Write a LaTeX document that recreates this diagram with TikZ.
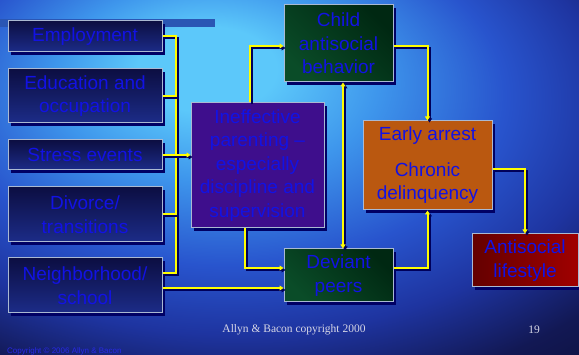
\documentclass[tikz,border=0pt]{standalone}
\usepackage{fontspec}
\setmainfont{Liberation Sans}
\newfontfamily\serifface{Liberation Serif}
\usetikzlibrary{arrows.meta,shadows}
\definecolor{bgbase}{RGB}{30,52,160}
\definecolor{glowA}{RGB}{62,150,236}
\definecolor{glowB}{RGB}{92,200,250}
\definecolor{midblue}{RGB}{40,84,205}
\definecolor{darkbg}{RGB}{18,24,84}
\definecolor{darkest}{RGB}{10,12,48}
\definecolor{barcol}{RGB}{42,86,180}
\definecolor{tblue}{RGB}{18,18,228}
\definecolor{bshadow}{RGB}{0,0,100}
\definecolor{bord}{RGB}{170,185,210}
\definecolor{cyel}{RGB}{255,255,0}
\definecolor{cshadow}{RGB}{0,0,90}
\definecolor{navyA}{RGB}{12,14,66}
\definecolor{navyB}{RGB}{28,44,136}
\definecolor{purA}{RGB}{62,14,140}
\definecolor{purB}{RGB}{40,6,96}
\definecolor{grnA}{RGB}{10,76,40}
\definecolor{grnB}{RGB}{0,40,18}
\definecolor{orA}{RGB}{186,88,16}
\definecolor{orB}{RGB}{106,48,8}
\definecolor{redA}{RGB}{100,0,0}
\definecolor{redB}{RGB}{160,0,0}
\definecolor{footgray}{RGB}{215,215,230}
\definecolor{copyblue}{RGB}{40,40,230}
\pgfdeclareradialshading{bgglow}{\pgfpoint{-7.7bp}{16.5bp}}{%
  color(0bp)=(glowB); color(6bp)=(glowB); color(14bp)=(glowA); color(24bp)=(midblue);
  color(32bp)=(bgbase); color(40bp)=(darkbg); color(50bp)=(darkest); color(80bp)=(darkest)}
\newcommand\mkbox[7]{%
  \node[boxbase,#6,minimum width=#4pt,minimum height=#5pt] (#1) at (#2,#3) {};
  \node[txt] (#1t) at (#1.center) {#7};
}
\newcommand\cn[2]{%
  \draw[connsh,#1,transform canvas={xshift=2pt,yshift=-2pt}] #2;
  \draw[conn,#1] #2;
}
\begin{document}
\begin{tikzpicture}[x=1pt,y=-1pt,
  boxbase/.style={draw=bord, line width=1pt, inner sep=0pt,
    drop shadow={shadow xshift=3pt, shadow yshift=-3pt, fill=bshadow, opacity=1}},
  navybox/.style={top color=navyA, bottom color=navyB},
  purbox/.style={left color=purA, middle color=purB, right color=purA, shading angle=135},
  grnbox/.style={left color=grnA, right color=grnB, shading angle=135},
  orbox/.style={left color=orA, middle color=orB, right color=orA, shading angle=135},
  redbox/.style={left color=redA, right color=redB},
  txt/.style={text=tblue, align=center, font=\fontsize{19}{23.5}\selectfont, inner sep=0pt},
  conn/.style={draw=cyel, line width=2pt},
  connsh/.style={draw=cshadow, line width=2pt},
  plain/.style={},
  arr/.style={-{Triangle[length=4pt,width=5pt]}},
  arrb/.style={{Triangle[length=4pt,width=5pt]}-{Triangle[length=4pt,width=5pt]}}
]
\useasboundingbox (0,0) rectangle (579,355);
% background
\shade[shading=bgglow] (0,0) rectangle (579,355);
\fill[barcol] (0,19) rectangle (215,27);
% boxes
\mkbox{emp}{85}{36.5}{154}{31}{navybox}{Employment}
\mkbox{edu}{85}{96}{154}{54}{navybox}{Education and\\occupation}
\mkbox{str}{85}{155}{154}{30}{navybox}{Stress events}
\mkbox{div}{85}{214.5}{154}{55}{navybox}{Divorce/\\transitions}
\mkbox{nei}{85}{285.5}{154}{55}{navybox}{Neighborhood/\\school}
\mkbox{par}{257.5}{165.5}{133}{125}{purbox}{Ineffective\\parenting --\\especially\\discipline and\\supervision}
\mkbox{chi}{338.5}{43.5}{109}{77}{grnbox}{Child\\antisocial\\behavior}
\mkbox{dev}{338.5}{275.5}{109}{53}{grnbox}{Deviant\\peers}
\mkbox{ear}{427.5}{165.5}{129}{89}{orbox}{Early arrest\\[12pt]Chronic\\delinquency}
\mkbox{ant}{525}{260.5}{106}{53}{redbox}{Antisocial\\lifestyle}
% connectors
\coordinate (tkb) at (176,273);
\cn{plain}{(emp.east) -| (tkb) -- ([yshift=12.5pt]nei.east)}
\cn{plain}{(edu.east) -- (edu.east -| tkb)}
\cn{plain}{(div.east) -- (div.east -| tkb)}
\cn{arr}{(str.east) -- (str.east -| par.west)}
\cn{arr}{([yshift=-2.5pt]nei.east) -- ([yshift=-2.5pt]nei.east -| dev.west)}
\cn{arr}{([xshift=-7.5pt]par.north) |- ([yshift=-2.5pt]chi.west)}
\cn{arr}{([xshift=-12.5pt]par.south) |- ([yshift=7.5pt]dev.west)}
\cn{arrb}{([xshift=4.5pt]chi.south) -- ([xshift=4.5pt]dev.north)}
\cn{arr}{([yshift=-2.5pt]chi.east) -| (ear.north)}
\cn{arr}{([yshift=7.5pt]dev.east) -| (ear.south)}
\cn{arr}{([yshift=-3.5pt]ear.east) -| (ant.north)}
% footer
\node[text=footgray, font=\serifface\fontsize{11.5}{13}\selectfont, inner sep=0pt] (foot) at (294,330) {Allyn \& Bacon copyright 2000};
\node[text=footgray, font=\serifface\fontsize{11.5}{13}\selectfont, inner sep=0pt] (pg) at (534,330) {19};
\node[text=copyblue, font=\fontsize{8}{9}\selectfont, inner sep=0pt, anchor=west] (cpy) at (7,351) {Copyright \textcopyright{} 2006 Allyn \& Bacon};
\end{tikzpicture}
\end{document}
